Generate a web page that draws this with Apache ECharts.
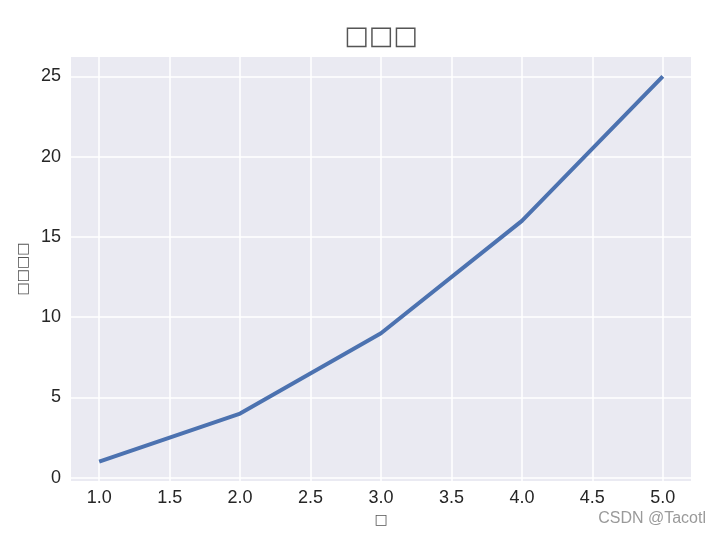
<!DOCTYPE html>
<html>
<head>
<meta charset="utf-8">
<script src="https://cdn.jsdelivr.net/npm/echarts@6/dist/echarts.min.js"></script>
<style>html,body{margin:0;padding:0;background:#fff}#c{width:720px;height:536px}</style>
</head>
<body>
<div id="c"></div>
<script>
var xValues = [1, 2, 3, 4, 5];
var yValues = [1, 4, 9, 16, 25];
var xTicks = [1.0, 1.5, 2.0, 2.5, 3.0, 3.5, 4.0, 4.5, 5.0];
var yTicks = [0, 5, 10, 15, 20, 25];
var titleText = '□□□';
var xLabelText = '□';
var yLabelText = '□□□□';
var watermark = 'CSDN @Tacotl';

var points = xValues.map(function (x, i) { return [x, yValues[i]]; });
var chart = echarts.init(document.getElementById('c'), null, {renderer: 'canvas'});
var font = 'Liberation Sans, Arial, sans-serif';
chart.setOption({
  animation: false,
  backgroundColor: '#ffffff',
  grid: {
    left: 71, right: 29, top: 57, bottom: 55,
    show: true, backgroundColor: '#EAEAF2', borderWidth: 0
  },
  xAxis: {
    type: 'value', min: 0.8, max: 5.2,
    name: xLabelText, nameLocation: 'middle', nameGap: 32,
    nameTextStyle: {fontSize: 14, color: '#555555', fontFamily: 'DejaVu Sans'},
    axisLine: {show: false},
    axisTick: {show: false, customValues: xTicks},
    axisLabel: {
      customValues: xTicks, margin: 8,
      fontSize: 18, color: '#262626', fontFamily: font,
      formatter: function (v) { return Number(v).toFixed(1); }
    },
    splitLine: {show: true, lineStyle: {color: '#ffffff', width: 1.5}}
  },
  yAxis: {
    type: 'value', min: -0.2, max: 26.2,
    name: yLabelText, nameLocation: 'middle', nameGap: 34, nameRotate: 90,
    nameTextStyle: {fontSize: 14, color: '#555555', fontFamily: 'DejaVu Sans'},
    axisLine: {show: false},
    axisTick: {show: false, customValues: yTicks},
    axisLabel: {
      customValues: yTicks, margin: 10,
      fontSize: 18, color: '#262626', fontFamily: font
    },
    splitLine: {show: true, lineStyle: {color: '#ffffff', width: 1.5}}
  },
  series: [{
    type: 'line', data: points, showSymbol: false,
    lineStyle: {color: '#4C72B0', width: 4},
    itemStyle: {color: '#4C72B0'}
  }],
  graphic: [{
    type: 'text', x: 381, y: 37,
    style: {text: titleText, fontSize: 26, fill: '#555555', fontFamily: 'DejaVu Sans',
            align: 'center', verticalAlign: 'middle'}
  }, {
    type: 'text', right: 14, top: 511,
    style: {text: watermark, fontSize: 16, fill: '#9a9a9a', fontFamily: font}
  }]
});
</script>
</body>
</html>
